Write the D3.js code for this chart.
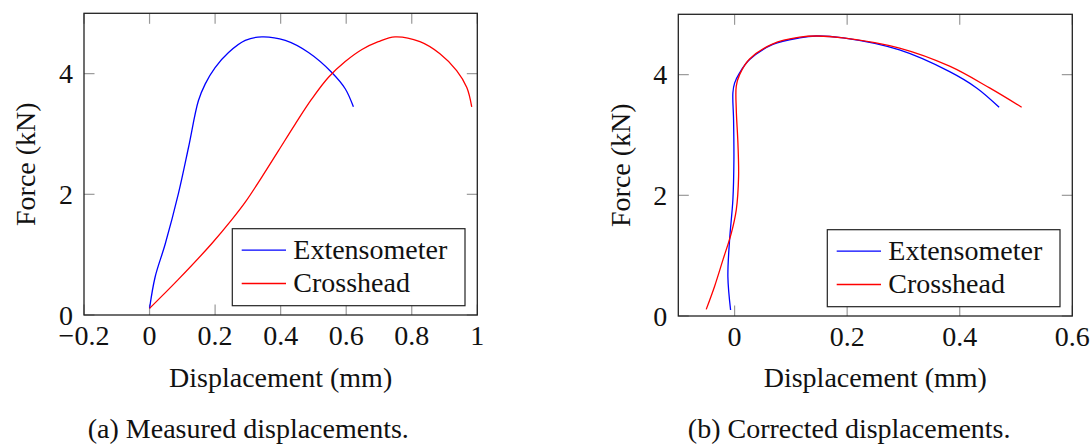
<!DOCTYPE html>
<html>
<head>
<meta charset="utf-8">
<script src="https://cdn.jsdelivr.net/npm/d3@7"></script>
<style>
  body { margin: 0; background: #fff; }
</style>
</head>
<body>
<div id="chart"></div>
<script>
// (a) measured displacements
let measuredExtX = [0, 0.017, 0.048, 0.088, 0.119, 0.149, 0.170, 0.200, 0.241, 0.292, 0.343, 0.414, 0.485, 0.556, 0.597, 0.622]
let measuredExtF = [0.11, 0.63, 1.18, 2.01, 2.78, 3.55, 3.83, 4.10, 4.35, 4.55, 4.61, 4.55, 4.35, 4.02, 3.75, 3.45]
let measuredCrossX = [0, 0.088, 0.190, 0.251, 0.292, 0.343, 0.393, 0.444, 0.495, 0.546, 0.597, 0.648, 0.698, 0.749, 0.825, 0.886, 0.937, 0.968, 0.983]
let measuredCrossF = [0.11, 0.59, 1.185, 1.58, 1.87, 2.29, 2.72, 3.16, 3.58, 3.94, 4.20, 4.40, 4.53, 4.61, 4.53, 4.33, 4.05, 3.77, 3.45]

// (b) corrected displacements
let correctedExtX = [-0.0071, -0.0119, -0.0089, -0.003, -0.0012, -0.0018, -0.003, 0, 0.0089, 0.0267, 0.068, 0.1156, 0.145, 0.193, 0.293, 0.382, 0.43, 0.47]
let correctedExtF = [0.10, 0.65, 1.26, 1.93, 2.59, 3.25, 3.70, 3.86, 4.03, 4.25, 4.50, 4.61, 4.64, 4.61, 4.41, 4.05, 3.78, 3.46]
let correctedCrossX = [-0.0504, -0.0356, -0.0207, -0.0059, 0.003, 0.0071, 0.0059, 0.003, 0.003, 0.0089, 0.0267, 0.068, 0.1156, 0.145, 0.193, 0.293, 0.382, 0.453, 0.51]
let correctedCrossF = [0.11, 0.49, 0.93, 1.37, 1.76, 2.31, 2.87, 3.42, 3.81, 4.00, 4.26, 4.51, 4.62, 4.64, 4.61, 4.44, 4.14, 3.78, 3.46]

let seriesNames = ['Extensometer', 'Crosshead']
let seriesColors = ['#0000ff', '#ff0000']

let xTicksA = [-0.2, 0, 0.2, 0.4, 0.6, 0.8, 1]
let xTicksB = [0, 0.2, 0.4, 0.6]
let yTicks = [0, 2, 4]

let xTitle = 'Displacement (mm)'
let yTitle = 'Force (kN)'
let captions = ['(a) Measured displacements.', '(b) Corrected displacements.']

let FONT = '"Liberation Serif", "DejaVu Serif", serif'
let FONT_SIZE = 28

let zip = (xs, ys) => xs.map((x, i) => [x, ys[i]])

let svg = d3.select('#chart')
    .append('svg')
    .attr('width', 1091)
    .attr('height', 445)

function fmt(v)
{
    // LaTeX style: real minus, no trailing zeros
    return v < 0 ? '\u2212' + Math.abs(v) : String(v)
}

function addText(parent, txt)
{
    return parent.append('text')
        .style('font-family', FONT)
        .style('font-size', FONT_SIZE + 'px')
        .attr('fill', '#111')
        .text(txt)
}

function drawPanel(opts)
{
    let x = d3.scaleLinear().domain(opts.xDomain).range([opts.left, opts.right])
    let y = d3.scaleLinear().domain([0, 5]).range([opts.bottom, opts.top])
    let tickLen = 10.5
    let g = svg.append('g')

    // inward grey ticks, mirrored on all sides
    let ticks = g.append('g').attr('stroke', '#999').attr('stroke-width', 1.2)
    opts.xTicks.forEach(t =>
    {
        ticks.append('line').attr('x1', x(t)).attr('x2', x(t)).attr('y1', opts.bottom).attr('y2', opts.bottom - tickLen)
        ticks.append('line').attr('x1', x(t)).attr('x2', x(t)).attr('y1', opts.top).attr('y2', opts.top + tickLen)
    })
    yTicks.forEach(t =>
    {
        ticks.append('line').attr('x1', opts.left).attr('x2', opts.left + tickLen).attr('y1', y(t)).attr('y2', y(t))
        ticks.append('line').attr('x1', opts.right).attr('x2', opts.right - tickLen).attr('y1', y(t)).attr('y2', y(t))
    })

    // tick labels
    opts.xTicks.forEach(t =>
        addText(g, fmt(t))
            .attr('x', x(t))
            .attr('y', opts.bottom + 30)
            .attr('text-anchor', 'middle'))

    yTicks.forEach(t =>
        addText(g, fmt(t))
            .attr('x', opts.left - 11)
            .attr('y', y(t) + 9.5)
            .attr('text-anchor', 'end'))

    // curves
    let line = d3.line()
        .x(d => x(d[0]))
        .y(d => y(d[1]))
        .curve(d3.curveCatmullRom.alpha(0.5))

    opts.series.forEach((s, i) =>
    {
        g.append('path')
            .attr('d', line(s))
            .attr('fill', 'none')
            .attr('stroke', seriesColors[i])
            .attr('stroke-width', 1.3)
    })

    // frame
    g.append('rect')
        .attr('x', opts.left)
        .attr('y', opts.top)
        .attr('width', opts.right - opts.left)
        .attr('height', opts.bottom - opts.top)
        .attr('fill', 'none')
        .attr('stroke', '#222')
        .attr('stroke-width', 1.3)

    // legend, south east
    let lw = 232.7, lh = 77
    let lx = opts.right - 12.3 - lw
    let ly = opts.bottom - 9.3 - lh
    let legend = g.append('g').attr('transform', `translate(${lx},${ly})`)
    legend.append('rect')
        .attr('width', lw)
        .attr('height', lh)
        .attr('fill', '#fff')
        .attr('stroke', '#222')
        .attr('stroke-width', 1.2)
    seriesNames.forEach((name, i) =>
    {
        let ry = 21.5 + i * 33.3
        legend.append('line')
            .attr('x1', 9.4).attr('x2', 53.7)
            .attr('y1', ry).attr('y2', ry)
            .attr('stroke', seriesColors[i])
            .attr('stroke-width', 1.3)
        addText(legend, name)
            .attr('x', 61)
            .attr('y', ry + 9)
    })

    // axis titles
    addText(g, xTitle)
        .attr('x', (opts.left + opts.right) / 2)
        .attr('y', 387)
        .attr('text-anchor', 'middle')

    let cy = (opts.top + opts.bottom) / 2
    addText(g, yTitle)
        .attr('transform', `translate(${opts.yTitleX},${cy}) rotate(-90)`)
        .attr('text-anchor', 'middle')

    addText(g, opts.caption)
        .attr('x', opts.captionX)
        .attr('y', 437.5)
        .attr('text-anchor', 'middle')
}

drawPanel({
    left: 84, right: 477.3, top: 13.3, bottom: 315,
    xDomain: [-0.2, 1], xTicks: xTicksA,
    series: [zip(measuredExtX, measuredExtF), zip(measuredCrossX, measuredCrossF)],
    yTitleX: 35, captionX: 248.3, caption: captions[0]
})

drawPanel({
    left: 678.3, right: 1072.3, top: 14.3, bottom: 316,
    xDomain: [-0.1, 0.6], xTicks: xTicksB,
    series: [zip(correctedExtX, correctedExtF), zip(correctedCrossX, correctedCrossF)],
    yTitleX: 630, captionX: 849.2, caption: captions[1]
})
</script>
</body>
</html>
